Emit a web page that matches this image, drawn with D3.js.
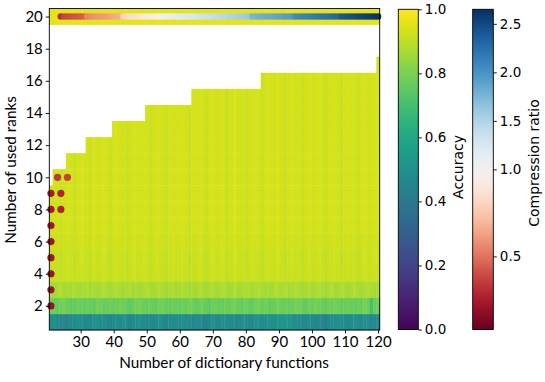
<!DOCTYPE html>
<html><head><meta charset="utf-8">
<script src="https://cdn.jsdelivr.net/npm/d3@7"></script>
<style>
body{margin:0;background:#fff}
svg{display:block}
text{fill:#000}
</style></head>
<body>
<svg id="c" width="545" height="382"></svg>
<script>
// ---------------- DATA ----------------
// number of dictionary functions (x categories)
const nValues = d3.range(21, 121);
// staircase: from nStart on, ranks 1..maxRank are evaluated
const stairStartN = [21, 22, 26, 32, 40, 50, 64, 85, 120];
const stairMaxRank = [9, 10, 11, 12, 13, 14, 15, 16, 17];
// accuracy, rank 1 row (n = 21..120)
const accRank1 = [0.49,0.50,0.47,0.46,0.47,0.45,0.46,0.48,0.50,0.49,
  0.47,0.48,0.46,0.51,0.50,0.49,0.47,0.48,0.46,0.47,
  0.49,0.48,0.50,0.47,0.46,0.48,0.49,0.51,0.47,0.46,
  0.48,0.47,0.49,0.50,0.48,0.46,0.47,0.49,0.48,0.47,
  0.50,0.48,0.47,0.46,0.49,0.48,0.44,0.45,0.47,0.49,
  0.48,0.47,0.49,0.50,0.48,0.47,0.46,0.48,0.50,0.49,
  0.47,0.48,0.49,0.50,0.48,0.49,0.51,0.50,0.49,0.50,
  0.52,0.53,0.51,0.50,0.49,0.48,0.47,0.48,0.49,0.47,
  0.46,0.47,0.45,0.42,0.46,0.48,0.49,0.50,0.49,0.48,
  0.47,0.49,0.50,0.48,0.47,0.49,0.50,0.46,0.47,0.48];
// accuracy, rank 2 row
const accRank2 = [0.78,0.77,0.76,0.78,0.79,0.77,0.75,0.76,0.78,0.77,
  0.76,0.78,0.77,0.75,0.79,0.78,0.76,0.77,0.78,0.76,
  0.77,0.79,0.78,0.76,0.75,0.77,0.78,0.79,0.77,0.76,
  0.78,0.77,0.76,0.78,0.79,0.77,0.76,0.78,0.77,0.76,
  0.78,0.77,0.79,0.78,0.76,0.77,0.78,0.76,0.75,0.77,
  0.78,0.77,0.76,0.78,0.77,0.79,0.78,0.77,0.76,0.78,
  0.77,0.76,0.78,0.79,0.77,0.78,0.76,0.77,0.78,0.79,
  0.77,0.78,0.76,0.77,0.79,0.78,0.77,0.76,0.78,0.77,
  0.79,0.78,0.77,0.76,0.78,0.77,0.79,0.78,0.76,0.77,
  0.78,0.77,0.76,0.78,0.77,0.79,0.78,0.71,0.77,0.78];
// accuracy, rank 3 row
const accRank3 = [0.87,0.86,0.87,0.88,0.86,0.87,0.86,0.88,0.87,0.86,
  0.87,0.88,0.86,0.87,0.86,0.87,0.88,0.87,0.86,0.87,
  0.88,0.87,0.86,0.87,0.88,0.86,0.87,0.86,0.87,0.88,
  0.87,0.86,0.87,0.88,0.87,0.86,0.87,0.88,0.86,0.87,
  0.88,0.87,0.86,0.87,0.86,0.88,0.87,0.86,0.87,0.88,
  0.86,0.87,0.88,0.87,0.86,0.87,0.88,0.86,0.87,0.87,
  0.88,0.86,0.87,0.88,0.87,0.86,0.87,0.86,0.88,0.87,
  0.87,0.88,0.86,0.87,0.88,0.87,0.86,0.87,0.88,0.86,
  0.87,0.88,0.87,0.86,0.87,0.88,0.86,0.87,0.88,0.87,
  0.86,0.87,0.88,0.87,0.86,0.87,0.88,0.87,0.86,0.87];
// accuracy, ranks >= 4 (per n; rows share the column pattern)
const accUpper = [0.92,0.93,0.93,0.92,0.93,0.94,0.93,0.92,0.93,0.94,
  0.93,0.93,0.92,0.94,0.93,0.93,0.94,0.93,0.92,0.93,
  0.94,0.93,0.93,0.92,0.93,0.94,0.93,0.93,0.94,0.93,
  0.92,0.93,0.94,0.93,0.93,0.92,0.93,0.94,0.93,0.93,
  0.94,0.93,0.92,0.93,0.93,0.94,0.93,0.92,0.93,0.94,
  0.93,0.93,0.94,0.92,0.93,0.93,0.94,0.93,0.93,0.92,
  0.93,0.94,0.93,0.93,0.92,0.93,0.94,0.93,0.93,0.94,
  0.93,0.92,0.93,0.94,0.93,0.93,0.92,0.93,0.94,0.93,
  0.93,0.94,0.93,0.92,0.93,0.93,0.94,0.93,0.92,0.93,
  0.94,0.93,0.93,0.92,0.93,0.94,0.93,0.93,0.94,0.93];
// rank offset for rows 4..17 relative to accUpper
const rowOffsetRanks = [4, 5, 6, 7, 8, 9, 10, 11, 12, 13, 14, 15, 16, 17];
const rowOffsetVals  = [-0.015,-0.01,-0.005,0,0,0,0,0,0,0,0,0,0,0];
// full-rank row (rank 20)
const fullRank = 20;
const accFullRank = 0.96;
// compression ratio of the full-rank model (dots on rank 20), n = 24..120
const compTopN = d3.range(24, 121);
const compTop = [0.30,
  0.38,0.39,0.40,0.41,0.42,0.43,0.45,
  0.55,0.56,0.58,0.59,0.60,0.61,0.62,0.63,0.65,0.66,0.68,
  0.80,0.82,0.84,0.86,0.87,0.89,0.91,0.92,0.94,0.95,0.97,0.98,1.00,
  1.10,1.12,1.14,1.16,1.18,1.20,1.22,1.24,1.26,1.28,1.30,1.32,1.34,1.36,1.38,1.40,1.42,1.44,1.46,1.48,1.50,1.52,1.54,1.56,1.58,1.60,
  1.75,1.77,1.79,1.80,1.82,1.84,1.85,1.87,1.88,1.90,1.92,1.93,1.95,
  2.05,2.07,2.09,2.11,2.13,2.15,2.17,2.19,2.21,2.23,2.25,2.27,2.29,2.30,
  2.40,2.42,2.44,2.46,2.48,2.50,2.52,2.54,2.56,2.58,2.60,2.62];
// highlighted configurations (n, rank, compression ratio)
const hiN    = [21, 21, 21, 21, 21, 21, 21, 21, 24, 24, 23, 26];
const hiRank = [2, 3, 4, 5, 6, 7, 8, 9, 8, 9, 10, 10];
const hiComp = [0.20,0.21,0.21,0.22,0.22,0.23,0.24,0.25,0.27,0.28,0.34,0.37];
// axis ticks
const xTicks = [30, 40, 50, 60, 70, 80, 90, 100, 110, 120];
const yTicks = [2, 4, 6, 8, 10, 12, 14, 16, 18, 20];
const accTicks = [0.0, 0.2, 0.4, 0.6, 0.8, 1.0];
const compTicks = [0.5, 1.0, 1.5, 2.0, 2.5];
const compMin = 0.08, compCenter = 1.0, compMax = 2.65;

// ---------------- DRAW ----------------
const svg = d3.select("#c");
const L = 49.3, R = 379.7, T = 8.5, B = 330;
const x = d3.scaleLinear().domain([20.5, 120.5]).range([L, R]);
const y = d3.scaleLinear().domain([0.5, 20.5]).range([B, T]);
const accColor = d3.scaleSequential(d3.interpolateViridis).domain([0, 1]);
const compNorm = d3.scaleLinear().domain([compMin, compCenter, compMax]).range([0, 0.5, 1]).clamp(true);
const compColor = v => d3.interpolateRdBu(compNorm(v));

function maxRankFor(n) {
  let m = 0;
  stairStartN.forEach((s, i) => { if (n >= s) m = stairMaxRank[i]; });
  return m;
}
const offsetFor = r => { const k = rowOffsetRanks.indexOf(r); return k >= 0 ? rowOffsetVals[k] : 0; };

const cells = [];
nValues.forEach((n, i) => {
  const mr = maxRankFor(n);
  for (let r = 1; r <= mr; r++) {
    let v;
    if (r === 1) v = accRank1[i];
    else if (r === 2) v = accRank2[i];
    else if (r === 3) v = accRank3[i];
    else v = accUpper[i] + offsetFor(r);
    cells.push({n, r, v});
  }
  cells.push({n, r: fullRank, v: accFullRank});
});

const g = svg.append("g");
g.selectAll("rect.cell").data(cells).join("rect")
  .attr("class", "cell")
  .attr("x", d => x(d.n - 0.5))
  .attr("width", d => x(d.n + 0.5) - x(d.n - 0.5) + 0.4)
  .attr("y", d => y(d.r + 0.5))
  .attr("height", d => y(d.r - 0.5) - y(d.r + 0.5) + 0.3)
  .attr("fill", d => accColor(d.v));

// top-row dots
g.selectAll("circle.top").data(compTopN.map((n, i) => ({n, c: compTop[i]}))).join("circle")
  .attr("class", "top")
  .attr("cx", d => x(d.n)).attr("cy", y(fullRank)).attr("r", 3.3)
  .attr("fill", d => compColor(d.c));

// frame
svg.append("rect").attr("x", L).attr("y", T).attr("width", R - L).attr("height", B - T)
  .attr("fill", "none").attr("stroke", "#000").attr("stroke-width", 0.9);

// highlight dots
g.selectAll("circle.hi").data(hiN.map((n, i) => ({n, r: hiRank[i], c: hiComp[i]}))).join("circle")
  .attr("class", "hi")
  .attr("cx", d => x(d.n)).attr("cy", d => y(d.r)).attr("r", 3.6)
  .attr("fill", d => compColor(d.c));

// axes
const font = "Lato, 'DejaVu Sans', sans-serif";
const xAxis = svg.append("g").attr("transform", `translate(0,${B})`)
  .call(d3.axisBottom(x).tickValues(xTicks).tickSize(3.5).tickPadding(3));
const yAxis = svg.append("g").attr("transform", `translate(${L},0)`)
  .call(d3.axisLeft(y).tickValues(yTicks).tickSize(3.5).tickPadding(3));
[xAxis, yAxis].forEach(a => {
  a.select(".domain").remove();
  a.selectAll("line").attr("stroke", "#000").attr("stroke-width", 0.9);
  a.selectAll("text").attr("font-family", font).attr("font-size", 15).attr("fill", "#000");
});

svg.append("text").attr("x", 224).attr("y", 368).attr("text-anchor", "middle")
  .attr("font-family", font).attr("font-size", 15.3).text("Number of dictionary functions");
svg.append("text").attr("transform", "translate(16,170) rotate(-90)").attr("text-anchor", "middle")
  .attr("font-family", font).attr("font-size", 15.3).text("Number of used ranks");

// colorbars
const defs = svg.append("defs");
function gradient(id, fn) {
  const gr = defs.append("linearGradient").attr("id", id)
    .attr("x1", 0).attr("x2", 0).attr("y1", 1).attr("y2", 0);
  d3.range(0, 1.0001, 0.02).forEach(t => gr.append("stop").attr("offset", t).attr("stop-color", fn(t)));
}
gradient("gAcc", d3.interpolateViridis);
gradient("gComp", d3.interpolateRdBu);

const cbT = 9.3, cbB = 329.5;
function colorbar(x0, w, gid, scale, ticks, label, labelX, labelY, fmt) {
  svg.append("rect").attr("x", x0).attr("y", cbT).attr("width", w).attr("height", cbB - cbT)
    .attr("fill", `url(#${gid})`).attr("stroke", "#000").attr("stroke-width", 0.9);
  const a = svg.append("g").attr("transform", `translate(${x0 + w},0)`)
    .call(d3.axisRight(scale).tickValues(ticks).tickSize(3.5).tickPadding(3).tickFormat(fmt));
  a.select(".domain").remove();
  a.selectAll("line").attr("stroke", "#000").attr("stroke-width", 0.9);
  a.selectAll("text").attr("font-family", "'DejaVu Sans', sans-serif").attr("font-size", 13.5).attr("fill", "#000");
  svg.append("text").attr("transform", `translate(${labelX},${labelY}) rotate(-90)`).attr("text-anchor", "middle")
    .attr("font-family", "'DejaVu Sans', sans-serif").attr("font-size", 14).text(label);
}
colorbar(398.3, 20, "gAcc", d3.scaleLinear().domain([0, 1]).range([cbB, cbT]), accTicks, "Accuracy", 463, 167, d3.format(".1f"));
colorbar(472.7, 20.6, "gComp",
  d3.scaleLinear().domain([compMin, compCenter, compMax]).range([cbB, (cbB + cbT) / 2, cbT]),
  compTicks, "Compression ratio", 539, 163, d3.format(".1f"));
</script>
</body></html>
